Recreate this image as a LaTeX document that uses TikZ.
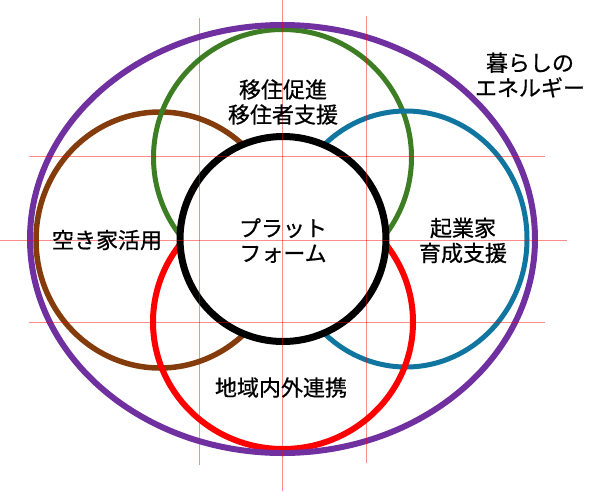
\documentclass[tikz,border=0pt]{standalone}
\usepackage{fontspec}
\newfontfamily\jpfont[FakeBold=0.7]{Noto Sans CJK JP}
\definecolor{ringpurple}{RGB}{112,48,160}
\definecolor{ringgreen}{RGB}{61,125,35}
\definecolor{ringbrown}{RGB}{132,60,12}
\definecolor{ringblue}{RGB}{16,118,160}
\begin{document}
\begin{tikzpicture}[x=1pt,y=-1pt,
	ring/.style={line width=5pt},
	guide/.style={red,opacity=0.45,line width=0.8pt},
	tag/.style={font=\jpfont\fontsize{22}{25}\selectfont,align=center,inner sep=0pt}]

	\useasboundingbox (0,0) rectangle (600,491);

	\draw[ring,ringbrown,line width=5.5pt] (160,240) ellipse [x radius=124pt, y radius=128pt];
	\draw[ring,ringgreen] (282.5,157.5) ellipse [x radius=129pt, y radius=128pt];
	\draw[ring,ringblue] (406,239) ellipse [x radius=121pt, y radius=128pt];
	\draw[ring,red,line width=6pt] (283,322) ellipse [x radius=130pt, y radius=127pt];
	\draw[ring,ringpurple,line width=6pt] (282.5,239) ellipse [x radius=252.5pt, y radius=214pt];
	\draw[ring,black,line width=7pt,fill=white] (283,239) ellipse [x radius=103pt, y radius=102.5pt];

	\draw[guide] (282.5,0) -- (282.5,491);
	\draw[guide] (199,18) -- (199,465);
	\draw[guide] (366,16) -- (366,463);
	\draw[guide] (0,240) -- (567,240);
	\draw[guide] (29,156) -- (545,156);
	\draw[guide] (29,322) -- (545,322);

	\node[tag] (ijuu) at (283,102) {移住促進\\移住者支援};
	\node[tag] (akiya) at (107,240) {空き家活用};
	\node[tag] (platform) at (283,240.5) {プラット\\フォーム};
	\node[tag] (kigyou) at (463,240.5) {起業家\\育成支援};
	\node[tag] (renkei) at (281,387.5) {地域内外連携};
	\node[tag] (kurashi) at (530,75) {暮らしの\\エネルギー};
\end{tikzpicture}
\end{document}
